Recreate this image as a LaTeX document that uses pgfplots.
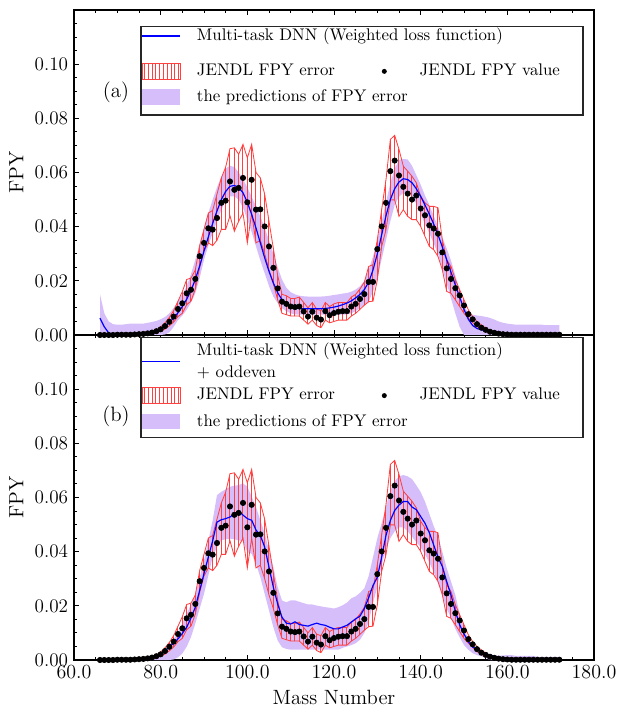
\documentclass[border=0pt]{standalone}
\usepackage{pgfplots}
\usepackage{pgfplotstable}
\pgfplotsset{compat=1.18}
\usepgfplotslibrary{fillbetween}
\usetikzlibrary{patterns.meta}

\definecolor{lav}{RGB}{214,190,250}
\definecolor{jred}{RGB}{255,64,64}
\tikzset{
  legbox/.style={draw=black!85, line width=0.8pt, fill=white},
  hatchkey/.style={draw=jred, line width=0.5pt,
    pattern={Lines[angle=90,distance=2.28pt,line width=0.45pt]}, pattern color=jred},
}

% m: mass number, v/lo/hi: JENDL value and error band,
% ba/al/ah: DNN and predicted band (a), bb/bl/bh: the same for (b)
\pgfplotstableread{
m v lo hi ba al ah bb bl bh
66 0.0000 0.0000 0.0001 0.0062 0.0000 0.0150 0.0001 0.0000 0.0008
67 0.0000 0.0000 0.0001 0.0030 0.0000 0.0080 0.0001 0.0000 0.0008
68 0.0000 0.0000 0.0001 0.0008 0.0000 0.0050 0.0001 0.0000 0.0008
69 0.0000 0.0000 0.0001 0.0002 0.0000 0.0040 0.0001 0.0000 0.0008
70 0.0001 0.0000 0.0001 0.0001 0.0000 0.0038 0.0001 0.0000 0.0008
71 0.0001 0.0000 0.0001 0.0001 0.0000 0.0038 0.0001 0.0000 0.0008
72 0.0001 0.0000 0.0001 0.0001 0.0000 0.0040 0.0001 0.0000 0.0008
73 0.0001 0.0001 0.0002 0.0001 0.0000 0.0042 0.0001 0.0000 0.0008
74 0.0002 0.0001 0.0003 0.0001 0.0000 0.0042 0.0001 0.0000 0.0008
75 0.0003 0.0002 0.0004 0.0001 0.0000 0.0042 0.0002 0.0000 0.0008
76 0.0004 0.0003 0.0005 0.0002 0.0000 0.0042 0.0003 0.0000 0.0008
77 0.0006 0.0004 0.0008 0.0003 0.0000 0.0045 0.0005 0.0000 0.0008
78 0.0009 0.0006 0.0012 0.0006 0.0000 0.0048 0.0008 0.0000 0.0010
79 0.0014 0.0010 0.0019 0.0012 0.0000 0.0052 0.0013 0.0000 0.0015
80 0.0021 0.0013 0.0030 0.0020 0.0000 0.0058 0.0024 0.0000 0.0026
81 0.0033 0.0022 0.0045 0.0032 0.0002 0.0066 0.0035 0.0000 0.0040
82 0.0049 0.0034 0.0065 0.0046 0.0010 0.0080 0.0048 0.0000 0.0057
83 0.0068 0.0048 0.0090 0.0062 0.0030 0.0100 0.0062 0.0002 0.0077
84 0.0096 0.0068 0.0125 0.0082 0.0055 0.0125 0.0078 0.0010 0.0100
85 0.0117 0.0080 0.0160 0.0105 0.0072 0.0150 0.0098 0.0024 0.0135
86 0.0154 0.0112 0.0205 0.0132 0.0093 0.0180 0.0121 0.0049 0.0171
87 0.0167 0.0125 0.0210 0.0165 0.0120 0.0225 0.0155 0.0085 0.0205
88 0.0207 0.0170 0.0240 0.0205 0.0154 0.0278 0.0195 0.0135 0.0244
89 0.0291 0.0250 0.0330 0.0255 0.0210 0.0335 0.0257 0.0190 0.0305
90 0.0340 0.0310 0.0390 0.0310 0.0278 0.0395 0.0319 0.0244 0.0368
91 0.0394 0.0340 0.0450 0.0362 0.0330 0.0450 0.0380 0.0312 0.0440
92 0.0389 0.0330 0.0460 0.0412 0.0376 0.0500 0.0440 0.0380 0.0516
93 0.0432 0.0350 0.0520 0.0458 0.0420 0.0545 0.0509 0.0417 0.0609
94 0.0488 0.0390 0.0580 0.0500 0.0463 0.0585 0.0518 0.0442 0.0621
95 0.0496 0.0390 0.0620 0.0530 0.0495 0.0615 0.0522 0.0446 0.0630
96 0.0567 0.0440 0.0688 0.0549 0.0512 0.0625 0.0528 0.0448 0.0640
97 0.0536 0.0383 0.0691 0.0552 0.0512 0.0620 0.0540 0.0446 0.0643
98 0.0543 0.0420 0.0667 0.0545 0.0500 0.0600 0.0550 0.0442 0.0646
99 0.0580 0.0450 0.0704 0.0525 0.0470 0.0575 0.0535 0.0438 0.0652
100 0.0490 0.0340 0.0654 0.0490 0.0426 0.0545 0.0522 0.0399 0.0640
101 0.0573 0.0450 0.0704 0.0445 0.0380 0.0510 0.0516 0.0392 0.0603
102 0.0463 0.0340 0.0600 0.0395 0.0327 0.0475 0.0480 0.0355 0.0565
103 0.0464 0.0350 0.0580 0.0340 0.0275 0.0438 0.0460 0.0306 0.0516
104 0.0401 0.0300 0.0520 0.0285 0.0228 0.0395 0.0417 0.0244 0.0467
105 0.0327 0.0240 0.0420 0.0235 0.0180 0.0350 0.0343 0.0183 0.0405
106 0.0248 0.0190 0.0320 0.0192 0.0142 0.0300 0.0269 0.0121 0.0343
107 0.0172 0.0130 0.0220 0.0156 0.0118 0.0250 0.0207 0.0072 0.0269
108 0.0123 0.0080 0.0150 0.0130 0.0099 0.0205 0.0158 0.0047 0.0220
109 0.0115 0.0075 0.0145 0.0114 0.0088 0.0175 0.0136 0.0041 0.0213
110 0.0105 0.0070 0.0135 0.0105 0.0080 0.0158 0.0133 0.0038 0.0220
111 0.0103 0.0070 0.0135 0.0100 0.0076 0.0150 0.0141 0.0038 0.0220
112 0.0105 0.0070 0.0140 0.0098 0.0075 0.0145 0.0131 0.0038 0.0215
113 0.0087 0.0055 0.0120 0.0097 0.0075 0.0143 0.0128 0.0038 0.0210
114 0.0068 0.0040 0.0100 0.0097 0.0075 0.0142 0.0125 0.0038 0.0205
115 0.0086 0.0055 0.0120 0.0097 0.0075 0.0142 0.0131 0.0038 0.0205
116 0.0064 0.0035 0.0095 0.0097 0.0075 0.0142 0.0136 0.0038 0.0201
117 0.0057 0.0027 0.0090 0.0097 0.0075 0.0142 0.0131 0.0038 0.0198
118 0.0088 0.0055 0.0120 0.0098 0.0075 0.0143 0.0128 0.0038 0.0195
119 0.0073 0.0045 0.0105 0.0100 0.0075 0.0145 0.0121 0.0038 0.0193
120 0.0081 0.0050 0.0115 0.0103 0.0075 0.0148 0.0115 0.0038 0.0190
121 0.0086 0.0055 0.0120 0.0107 0.0075 0.0150 0.0115 0.0038 0.0195
122 0.0088 0.0055 0.0120 0.0112 0.0075 0.0153 0.0122 0.0045 0.0202
123 0.0088 0.0055 0.0120 0.0118 0.0076 0.0155 0.0128 0.0050 0.0212
124 0.0105 0.0070 0.0140 0.0126 0.0080 0.0160 0.0140 0.0055 0.0228
125 0.0115 0.0080 0.0150 0.0137 0.0088 0.0168 0.0152 0.0062 0.0235
126 0.0133 0.0095 0.0170 0.0150 0.0100 0.0180 0.0162 0.0075 0.0248
127 0.0151 0.0110 0.0195 0.0168 0.0112 0.0200 0.0190 0.0100 0.0265
128 0.0196 0.0123 0.0253 0.0195 0.0123 0.0240 0.0230 0.0140 0.0310
129 0.0196 0.0125 0.0260 0.0240 0.0160 0.0290 0.0275 0.0210 0.0380
130 0.0317 0.0204 0.0352 0.0300 0.0210 0.0350 0.0306 0.0270 0.0450
131 0.0401 0.0327 0.0463 0.0370 0.0280 0.0420 0.0380 0.0350 0.0505
132 0.0488 0.0389 0.0574 0.0440 0.0350 0.0490 0.0460 0.0410 0.0565
133 0.0605 0.0499 0.0722 0.0500 0.0420 0.0560 0.0515 0.0450 0.0625
134 0.0644 0.0499 0.0737 0.0540 0.0480 0.0615 0.0552 0.0475 0.0660
135 0.0589 0.0438 0.0685 0.0565 0.0510 0.0645 0.0572 0.0490 0.0678
136 0.0547 0.0463 0.0623 0.0577 0.0525 0.0650 0.0585 0.0490 0.0683
137 0.0522 0.0438 0.0605 0.0574 0.0525 0.0648 0.0585 0.0475 0.0678
138 0.0500 0.0426 0.0586 0.0562 0.0512 0.0625 0.0565 0.0455 0.0668
139 0.0515 0.0426 0.0562 0.0540 0.0485 0.0590 0.0555 0.0435 0.0645
140 0.0467 0.0401 0.0512 0.0512 0.0446 0.0555 0.0530 0.0417 0.0620
141 0.0442 0.0364 0.0488 0.0480 0.0410 0.0515 0.0505 0.0390 0.0585
142 0.0405 0.0327 0.0475 0.0446 0.0376 0.0480 0.0470 0.0360 0.0540
143 0.0393 0.0315 0.0475 0.0410 0.0338 0.0440 0.0425 0.0325 0.0495
144 0.0374 0.0290 0.0470 0.0370 0.0300 0.0400 0.0380 0.0285 0.0455
145 0.0305 0.0241 0.0352 0.0325 0.0245 0.0360 0.0345 0.0240 0.0400
146 0.0246 0.0161 0.0278 0.0278 0.0191 0.0320 0.0290 0.0190 0.0340
147 0.0207 0.0154 0.0253 0.0232 0.0135 0.0275 0.0240 0.0155 0.0290
148 0.0173 0.0130 0.0204 0.0185 0.0080 0.0220 0.0180 0.0115 0.0240
149 0.0146 0.0105 0.0167 0.0140 0.0030 0.0165 0.0130 0.0084 0.0170
150 0.0109 0.0080 0.0130 0.0095 0.0000 0.0110 0.0096 0.0055 0.0120
151 0.0077 0.0062 0.0093 0.0058 0.0000 0.0080 0.0068 0.0038 0.0075
152 0.0058 0.0046 0.0068 0.0035 0.0000 0.0075 0.0048 0.0025 0.0052
153 0.0040 0.0031 0.0050 0.0024 0.0000 0.0072 0.0040 0.0018 0.0042
154 0.0027 0.0021 0.0037 0.0019 0.0000 0.0070 0.0030 0.0014 0.0032
155 0.0019 0.0013 0.0026 0.0015 0.0000 0.0067 0.0024 0.0008 0.0025
156 0.0012 0.0008 0.0017 0.0011 0.0000 0.0063 0.0018 0.0000 0.0020
157 0.0008 0.0005 0.0011 0.0008 0.0000 0.0057 0.0014 0.0000 0.0016
158 0.0005 0.0003 0.0007 0.0005 0.0000 0.0050 0.0010 0.0000 0.0016
159 0.0003 0.0002 0.0004 0.0004 0.0000 0.0045 0.0007 0.0000 0.0017
160 0.0002 0.0001 0.0003 0.0002 0.0000 0.0042 0.0005 0.0000 0.0018
161 0.0001 0.0001 0.0002 0.0002 0.0000 0.0040 0.0004 0.0000 0.0018
162 0.0001 0.0000 0.0001 0.0002 0.0000 0.0038 0.0003 0.0000 0.0015
163 0.0001 0.0000 0.0001 0.0001 0.0000 0.0038 0.0003 0.0000 0.0015
164 0.0001 0.0000 0.0001 0.0001 0.0000 0.0038 0.0003 0.0000 0.0015
165 0.0001 0.0000 0.0001 0.0001 0.0000 0.0038 0.0003 0.0000 0.0015
166 0.0001 0.0000 0.0001 0.0001 0.0000 0.0038 0.0003 0.0000 0.0015
167 0.0001 0.0000 0.0001 0.0001 0.0000 0.0038 0.0003 0.0000 0.0012
168 0.0001 0.0000 0.0001 0.0001 0.0000 0.0038 0.0003 0.0000 0.0012
169 0.0001 0.0000 0.0001 0.0001 0.0000 0.0036 0.0003 0.0000 0.0012
170 0.0001 0.0000 0.0001 0.0001 0.0000 0.0036 0.0003 0.0000 0.0012
171 0.0001 0.0000 0.0001 0.0001 0.0000 0.0036 0.0003 0.0000 0.0012
172 0.0001 0.0000 0.0001 0.0001 0.0000 0.0036 0.0003 0.0000 0.0012
}\data

\pgfplotsset{
  fpy/.style={
    scale only axis, width=312pt, height=195pt,
    xmin=60, xmax=180, ymin=0, ymax=0.12,
    xtick={60,80,...,180}, minor x tick num=3,
    ytick={0,0.02,0.04,0.06,0.08,0.1,0.12}, minor y tick num=3,
    yticklabels={0.00,0.02,0.04,0.06,0.08,0.10,},
    tick align=inside, xtick pos=both, ytick pos=left,
    major tick length=3pt, minor tick length=1.6pt,
    every tick/.style={black, line width=0.6pt},
    axis line style={line width=0.8pt},
    tick label style={font=\fontsize{11.5}{13}\selectfont},
    label style={font=\fontsize{12.4}{14}\selectfont},
    ylabel={FPY},
    legend columns=2,
    legend style={anchor=north west, draw=none, fill=none,
      inner xsep=0.6pt, inner ysep=0pt,
      column sep=0pt, row sep=0pt,
      font=\fontsize{10.1}{12}\selectfont,
      cells={anchor=base west},
      nodes={inner sep=0pt, text depth=, text height=}},
  },
  % coloured keys are drawn beside the legend, these only hold the space
  keyspace/.style={legend image code/.code={\path (0pt,2.6pt) (32.4pt,2.6pt);}},
  dotimg/.style={legend image code/.code={
    \fill[fill=black, draw=none] (11.4pt,2.6pt) circle (1.5pt);
    \path (0pt,2.6pt) (32.4pt,2.6pt);}},
}

\begin{document}
\begin{tikzpicture}
\begin{axis}[fpy, name=top, xticklabels={},
  legend style={at={(0.1288,0.9486)}}]
\addplot[name path=pah, draw=none, forget plot] table[x=m,y=ah]{\data};
\addplot[name path=pal, draw=none, forget plot] table[x=m,y=al]{\data};
\addplot[fill=lav, draw=none, forget plot] fill between[of=pah and pal];
\addplot[name path=jhi, jred, line width=0.5pt, forget plot] table[x=m,y=hi]{\data};
\addplot[name path=jlo, jred, line width=0.5pt, forget plot] table[x=m,y=lo]{\data};
\addplot[draw=none, pattern={Lines[angle=90,distance=2.6pt,line width=0.5pt]},
  pattern color=jred, forget plot] fill between[of=jhi and jlo];
\addplot[blue, line width=0.7pt, forget plot] table[x=m,y=ba]{\data};
\addplot[only marks, mark=*, mark size=1.6pt, black, forget plot] table[x=m,y=v]{\data};
\node[font=\fontsize{12.5}{14}\selectfont] at (axis cs:69.7,0.0896) {(a)};
\draw[legbox] (rel axis cs:0.1288,0.9486) rectangle (rel axis cs:0.9788,0.6769);
\coordinate (LA) at (rel axis cs:0.1288,0.9486);
\draw[blue, line width=0.8pt] ([shift={(0.6pt,-5.6pt)}]LA) -- ++(22.8pt,0pt);
\draw[hatchkey] ([shift={(0.6pt,-31.4pt)}]LA) rectangle ++(22.8pt,9.6pt);
\fill[lav] ([shift={(0.6pt,-46.9pt)}]LA) rectangle ++(22.8pt,9.4pt);

\addlegendimage{keyspace}
\addlegendentry{\raisebox{0pt}[8.2pt][12.8pt]{\makebox[100.8pt][l]{Multi-task DNN (Weighted loss function)}}}
\addlegendimage{empty legend}
\addlegendentry{\hphantom{x}}
\addlegendimage{keyspace}
\addlegendentry{\raisebox{0pt}[8.2pt][7.4pt]{\makebox[100.8pt][l]{JENDL FPY error}}}
\addlegendimage{dotimg}
\addlegendentry{\makebox[99pt][l]{JENDL FPY value}}
\addlegendimage{keyspace}
\addlegendentry{\raisebox{0pt}[8.2pt][8.2pt]{\makebox[100.8pt][l]{the predictions of FPY error}}}
\end{axis}

\begin{axis}[fpy, name=bot, at={(top.south west)}, anchor=north west,
  xlabel={Mass Number},
  xticklabel={\pgfmathprintnumber[fixed,fixed zerofill,precision=1]{\tick}},
  legend style={at={(0.1288,0.992)}}]
\addplot[name path=pbh, draw=none, forget plot] table[x=m,y=bh]{\data};
\addplot[name path=pbl, draw=none, forget plot] table[x=m,y=bl]{\data};
\addplot[fill=lav, draw=none, forget plot] fill between[of=pbh and pbl];
\addplot[name path=jhi, jred, line width=0.5pt, forget plot] table[x=m,y=hi]{\data};
\addplot[name path=jlo, jred, line width=0.5pt, forget plot] table[x=m,y=lo]{\data};
\addplot[draw=none, pattern={Lines[angle=90,distance=2.6pt,line width=0.5pt]},
  pattern color=jred, forget plot] fill between[of=jhi and jlo];
\addplot[blue, line width=0.7pt, forget plot] table[x=m,y=bb]{\data};
\addplot[only marks, mark=*, mark size=1.6pt, black, forget plot] table[x=m,y=v]{\data};
\node[font=\fontsize{12.5}{14}\selectfont] at (axis cs:69.7,0.0898) {(b)};
\draw[legbox] (rel axis cs:0.1288,0.992) rectangle (rel axis cs:0.9788,0.684);
\coordinate (LB) at (rel axis cs:0.1288,0.992);
\draw[blue, line width=0.8pt] ([shift={(0.6pt,-14.3pt)}]LB) -- ++(22.8pt,0pt);
\draw[hatchkey] ([shift={(0.6pt,-39.4pt)}]LB) rectangle ++(22.8pt,9.6pt);
\fill[lav] ([shift={(0.6pt,-55.0pt)}]LB) rectangle ++(22.8pt,9.4pt);

\addlegendimage{keyspace}
\addlegendentry{\raisebox{0pt}[16.9pt][12.1pt]{\makebox[100.8pt][l]{\def\arraystretch{1.1}\begin{tabular}[c]{@{}l@{}}Multi-task DNN (Weighted loss function)\\+ oddeven\end{tabular}}}}
\addlegendimage{empty legend}
\addlegendentry{\hphantom{x}}
\addlegendimage{keyspace}
\addlegendentry{\raisebox{0pt}[8.2pt][7.5pt]{\makebox[100.8pt][l]{JENDL FPY error}}}
\addlegendimage{dotimg}
\addlegendentry{\makebox[99pt][l]{JENDL FPY value}}
\addlegendimage{keyspace}
\addlegendentry{\raisebox{0pt}[8.2pt][7.0pt]{\makebox[100.8pt][l]{the predictions of FPY error}}}
\end{axis}
\path ([shift={(-44.4pt,6pt)}]top.north west) rectangle ([shift={(15.6pt,-31.8pt)}]bot.south east);
\end{tikzpicture}
\end{document}
